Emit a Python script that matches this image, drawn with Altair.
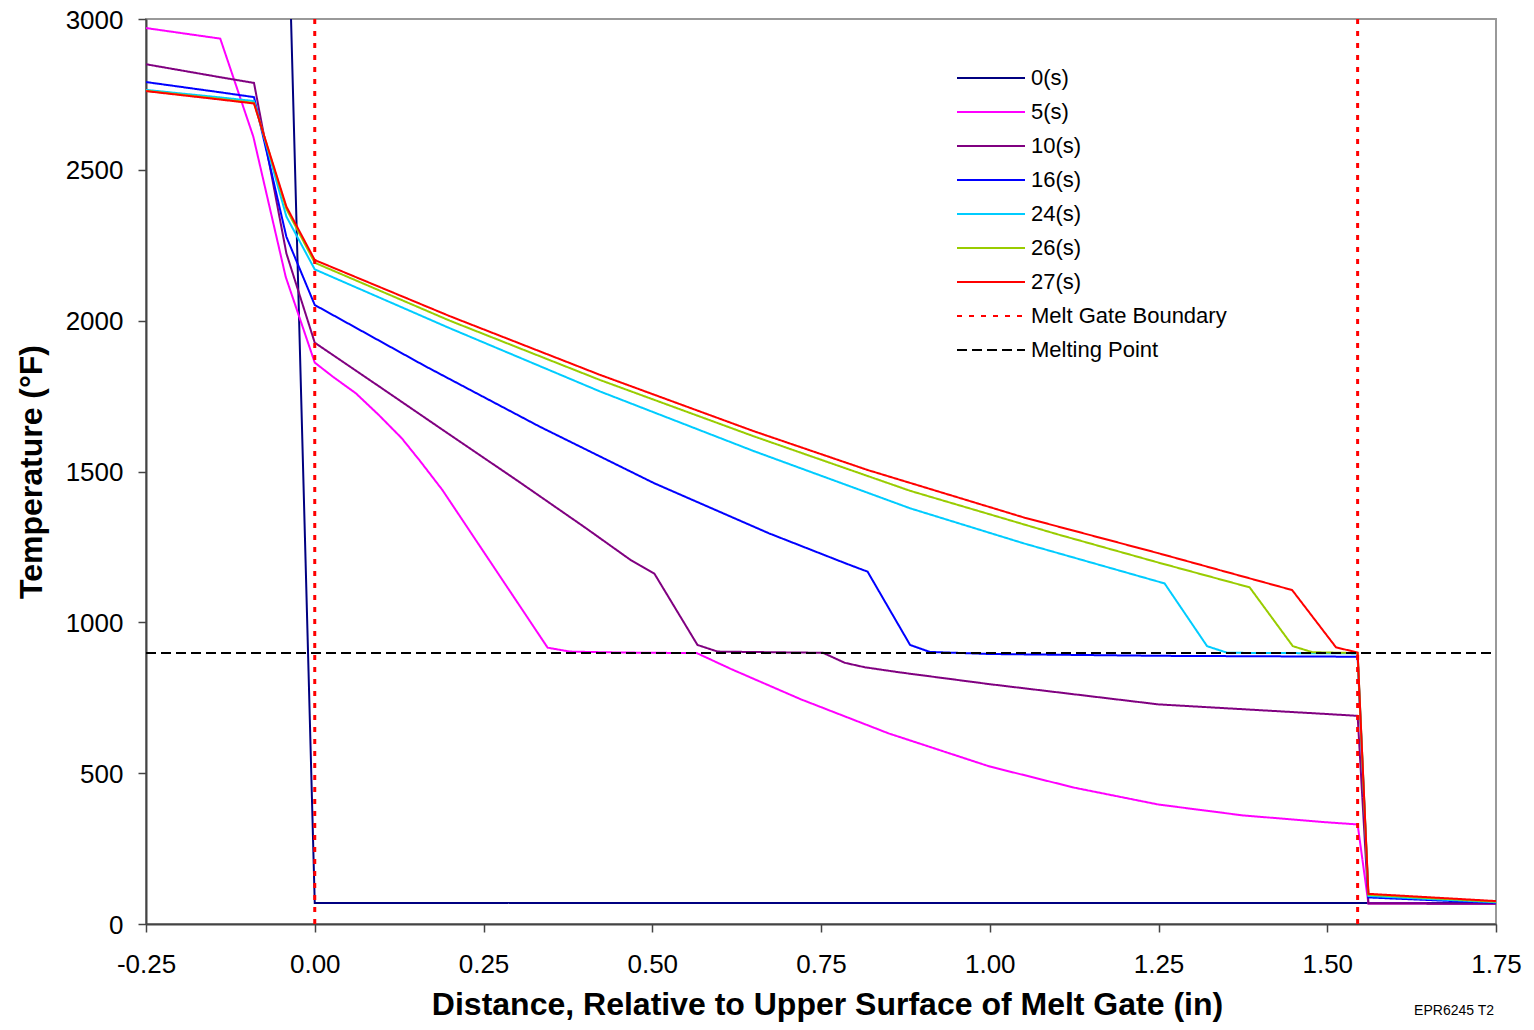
import altair as alt
import pandas as pd

# ---------------- data ----------------
SERIES = ["0(s)", "5(s)", "10(s)", "16(s)", "24(s)", "26(s)", "27(s)"]
COLORS = ["#000080", "#FF00FF", "#800080", "#0000FF", "#00CCFF", "#99CC00", "#FF0000"]

X_0S = [-0.042, 0.0, 1.75]
T_0S = [3573, 70, 70]

X_5S = [-0.25, -0.14, -0.091, -0.043, 0.0, 0.027, 0.061, 0.095, 0.129, 0.157, 0.189,
        0.345, 0.378, 0.45, 0.566, 0.617, 0.72, 0.85, 1.0, 1.125, 1.25, 1.375, 1.5,
        1.545, 1.561, 1.75]
T_5S = [2970, 2935, 2610, 2145, 1861, 1814, 1759, 1687, 1610, 1532, 1439,
        916, 903, 900, 898, 845, 745, 632, 522, 452, 396, 360, 337,
        330, 68, 67]

X_10S = [-0.25, -0.14, -0.09, -0.042, 0.0, 0.1, 0.2, 0.3, 0.4, 0.469, 0.503,
         0.567, 0.597, 0.753, 0.785, 0.815, 0.867, 1.0, 1.25, 1.5, 1.545, 1.561, 1.75]
T_10S = [2850, 2807, 2788, 2223, 1927, 1775, 1622, 1470, 1315, 1205, 1162,
         925, 903, 899, 866, 851, 834, 795, 728, 696, 690, 68, 67]

X_16S = [-0.25, -0.14, -0.09, -0.042, 0.0, 0.163, 0.333, 0.503, 0.673, 0.787, 0.819,
         0.882, 0.911, 1.0, 1.25, 1.545, 1.561, 1.75]
T_16S = [2791, 2757, 2741, 2278, 2052, 1850, 1649, 1461, 1295, 1195, 1168,
         925, 902, 895, 889, 886, 88, 70]

X_24S = [-0.25, -0.14, -0.09, -0.042, 0.0, 0.2, 0.423, 0.65, 0.882, 1.05, 1.259,
         1.322, 1.352, 1.545, 1.561, 1.75]
T_24S = [2765, 2740, 2728, 2345, 2170, 1975, 1765, 1568, 1378, 1262, 1129,
         921, 899, 897, 93, 72]

X_26S = [-0.25, -0.14, -0.09, -0.042, 0.0, 0.2, 0.423, 0.65, 0.882, 1.1, 1.25, 1.385,
         1.449, 1.478, 1.545, 1.561, 1.75]
T_26S = [2762, 2735, 2722, 2370, 2192, 2000, 1803, 1617, 1436, 1292, 1198, 1116,
         921, 901, 898, 97, 74]

X_27S = [-0.25, -0.14, -0.09, -0.042, 0.0, 0.2, 0.423, 0.65, 0.819, 1.05, 1.25, 1.448,
         1.513, 1.545, 1.561, 1.75]
T_27S = [2761, 2733, 2720, 2378, 2201, 2015, 1820, 1634, 1505, 1348, 1229, 1107,
         917, 900, 100, 76]

MELT_GATE_X = [0.0, 1.545]
MELTING_POINT_T = 898
X_DOMAIN = [-0.25, 1.75]
Y_DOMAIN = [0, 3000]
X_TICKS = [-0.25, 0.0, 0.25, 0.5, 0.75, 1.0, 1.25, 1.5, 1.75]
Y_TICKS = [0, 500, 1000, 1500, 2000, 2500, 3000]
LEGEND_ORDER = SERIES + ["Melt Gate Boundary", "Melting Point"]
NOTE = "EPR6245 T2"

# ---------------- tables ----------------
xs = [X_0S, X_5S, X_10S, X_16S, X_24S, X_26S, X_27S]
ts = [T_0S, T_5S, T_10S, T_16S, T_24S, T_26S, T_27S]
rows = []
for name, xv, tv in zip(SERIES, xs, ts):
    for i, (a, b) in enumerate(zip(xv, tv)):
        rows.append({"series": name, "x": a, "y": b, "idx": i})
df = pd.DataFrame(rows)

mp_df = pd.DataFrame({"series": ["Melting Point"] * 2, "x": X_DOMAIN,
                      "y": [MELTING_POINT_T] * 2, "idx": [0, 1]})
gate_df = pd.DataFrame({"series": ["Melt Gate Boundary"] * len(MELT_GATE_X), "x": MELT_GATE_X})

FONT = "Liberation Sans"

color_scale = alt.Scale(domain=LEGEND_ORDER, range=COLORS + ["#FF0000", "#000000"])
dash_scale = alt.Scale(domain=LEGEND_ORDER,
                       range=[[1, 0]] * 7 + [[5, 7], [10, 5]])

legend = alt.Legend(
    title=None, orient="none", legendX=827, legendY=41,
    symbolType="M-2,0H2", symbolSize=1156, symbolStrokeWidth=2,
    labelFont=FONT, labelFontSize=22, labelColor="#000000", labelOffset=22,
    rowPadding=5, padding=0, labelLimit=400,
)

xscale = alt.Scale(domain=X_DOMAIN, nice=False, zero=False)
yscale = alt.Scale(domain=Y_DOMAIN, nice=False)

xaxis = alt.Axis(values=X_TICKS, labelFlush=False, labelOverlap=False,
                 labelExpr="datum.value < 0 ? '-' + format(-datum.value, '.2f') : format(datum.value, '.2f')",
                 labelPadding=19, titlePadding=12, titleX=681,
                 title="Distance, Relative to Upper Surface of Melt Gate (in)")
yaxis = alt.Axis(values=Y_TICKS, format="d", labelFlush=False, labelOverlap=False,
                 labelPadding=15, titlePadding=17, labelOffset=1,
                 title="Temperature (°F)")

color_enc = alt.Color("series:N", scale=color_scale, legend=legend, sort=LEGEND_ORDER)
dash_enc = alt.StrokeDash("series:N", scale=dash_scale, legend=legend, sort=LEGEND_ORDER)

lines = alt.Chart(df).mark_line(strokeWidth=2, clip=True).encode(
    x=alt.X("x:Q", scale=xscale, axis=xaxis),
    y=alt.Y("y:Q", scale=yscale, axis=yaxis),
    color=color_enc,
    strokeDash=dash_enc,
    order="idx:Q",
)

mp = alt.Chart(mp_df).mark_line(strokeWidth=2).encode(
    x=alt.X("x:Q", scale=xscale),
    y=alt.Y("y:Q", scale=yscale),
    color=color_enc,
    strokeDash=dash_enc,
    order="idx:Q",
)

gate = alt.Chart(gate_df).mark_rule(strokeWidth=3).encode(
    x=alt.X("x:Q", scale=xscale),
    color=color_enc,
    strokeDash=dash_enc,
)

note = alt.Chart(pd.DataFrame({"t": [NOTE]})).mark_text(
    font=FONT, fontSize=14, align="right", baseline="alphabetic", color="#000000"
).encode(x=alt.value(1348), y=alt.value(996), text="t:N")

chart = alt.layer(lines, mp, gate, note).properties(
    width=1350, height=905,
    autosize=alt.AutoSizeParams(type="none"),
    padding={"left": 138, "top": 11, "right": 30, "bottom": 98},
).configure_view(
    stroke="#999999", strokeWidth=2
).configure_axis(
    grid=False,
    domainColor="#444444", domainWidth=2,
    tickColor="#444444", tickWidth=1.5, tickSize=8,
    labelFont=FONT, labelFontSize=26, labelColor="#000000",
    titleFont=FONT, titleFontSize=32, titleFontWeight="bold", titleColor="#000000",
)

chart.save("out.html", embed_options={"renderer": "svg", "actions": False})
